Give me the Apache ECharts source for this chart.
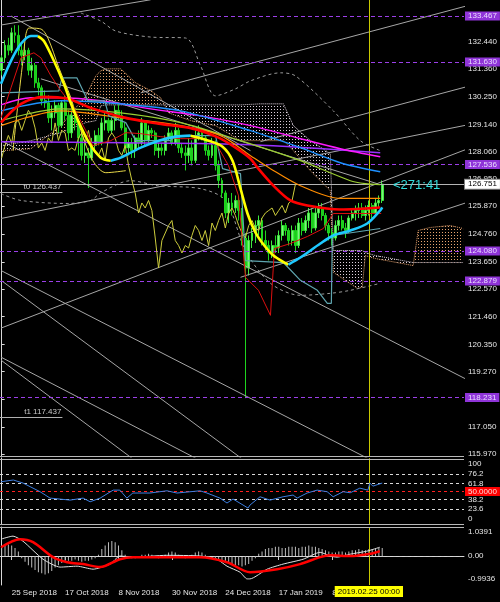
<!DOCTYPE html>
<html>
<head>
<meta charset="utf-8">
<script src="https://cdn.jsdelivr.net/npm/echarts@6/dist/echarts.min.js"></script>
<style>
html,body{margin:0;padding:0;background:#000;}
#c{width:500px;height:602px;}
</style>
</head>
<body>
<div id="c"></div>
<script>
// ---- daily bars (EUR/JPY style), one entry per trading day from 20 Sep 2018 ----
const openP  = [131.3,131.8,132.3,132.1,132.8,132.7,132.1,131.9,132.1,131.3,131.5,130.8,130.6,130.1,130.0,129.4,129.6,129.9,129.1,130.0,
  129.5,128.8,129.5,129.2,128.6,127.9,128.0,127.8,128.3,128.7,128.4,129.2,129.3,128.9,129.3,129.7,129.5,129.0,128.2,128.4,
  128.1,128.6,128.4,129.2,128.5,128.9,128.8,128.1,128.2,128.1,128.6,128.8,128.4,128.9,128.2,128.0,127.9,128.2,127.7,128.6,
  128.8,128.6,128.1,127.9,128.3,127.5,126.9,126.4,125.6,126.0,125.8,126.1,125.7,124.6,123.4,124.5,124.8,125.1,125.3,124.5,
  124.3,124.0,124.3,124.2,124.7,125.1,124.9,124.5,124.9,124.3,125.2,124.9,125.3,125.6,125.0,125.6,125.8,125.5,125.1,124.8,
  124.6,125.1,125.3,125.0,124.9,125.4,125.6,125.7,125.8,125.5,125.7,125.9,125.6,126.0,126.1];
const highP  = [131.9,132.5,132.6,133.0,133.1,133.1,132.4,132.4,132.2,131.8,131.6,131.0,130.7,130.5,130.3,129.9,130.1,130.0,130.1,130.3,
  129.7,129.7,129.6,129.3,128.9,128.5,128.2,128.6,128.9,129.0,129.4,129.6,129.4,129.4,129.9,130.0,129.7,129.2,128.6,128.6,
  128.7,128.9,129.4,129.3,129.1,129.0,128.9,128.4,128.4,128.7,129.0,128.9,129.2,129.0,128.4,128.3,128.6,128.5,128.9,129.1,
  129.0,128.7,128.3,128.6,128.5,127.7,127.0,126.5,126.2,126.4,126.3,126.3,125.8,124.8,124.7,125.0,125.3,125.5,125.4,124.9,
  124.5,124.5,124.7,124.9,125.3,125.2,125.0,125.1,125.1,125.4,125.4,125.5,125.8,125.8,125.8,126.0,126.0,125.6,125.2,125.0,
  125.3,125.5,125.5,125.2,125.5,125.8,125.9,126.0,126.0,125.9,126.1,126.0,126.2,126.3,126.9];
const lowP   = [131.1,131.6,131.9,132.0,132.4,131.9,131.5,131.7,131.1,131.0,130.6,130.3,129.9,129.8,129.2,128.9,129.4,128.8,129.0,129.3,
  128.5,128.6,128.9,127.9,127.7,127.6,126.6,127.7,128.1,128.3,128.3,128.9,128.8,128.8,128.9,129.3,128.9,128.0,127.9,127.8,
  127.8,128.2,128.3,128.3,128.4,128.6,127.9,127.8,127.9,127.9,128.5,128.3,128.3,128.0,127.8,127.3,127.6,127.5,127.6,128.5,
  128.5,127.9,127.7,127.8,127.3,126.6,126.2,125.4,125.2,125.5,125.6,125.3,124.3,118.2,123.1,124.2,124.4,124.7,124.3,124.1,
  123.7,123.8,124.0,124.0,124.5,124.7,124.3,124.3,124.0,124.2,124.7,124.8,125.0,124.8,124.9,125.4,125.3,124.9,124.5,124.3,
  124.5,124.9,124.9,124.6,124.8,125.3,125.3,125.4,125.4,125.3,125.5,125.4,125.5,125.8,126.0];
const closeP = [131.8,132.3,132.1,132.8,132.7,132.1,131.9,132.1,131.3,131.5,130.8,130.6,130.1,130.0,129.4,129.6,129.9,129.1,130.0,129.5,
  128.8,129.5,129.2,128.6,127.9,128.0,127.8,128.3,128.7,128.4,129.2,129.3,128.9,129.3,129.7,129.5,129.0,128.2,128.4,128.1,
  128.6,128.4,129.2,128.5,128.9,128.8,128.1,128.2,128.1,128.6,128.8,128.4,128.9,128.2,128.0,127.9,128.2,127.7,128.6,128.8,
  128.6,128.1,127.9,128.3,127.5,126.9,126.4,125.6,126.0,125.8,126.1,125.7,124.6,123.4,124.5,124.8,125.1,125.3,124.5,124.3,
  124.0,124.3,124.2,124.7,125.1,124.9,124.5,124.9,124.3,125.2,124.9,125.3,125.6,125.0,125.6,125.8,125.5,125.1,124.8,124.6,
  125.1,125.3,125.0,124.9,125.4,125.6,125.7,125.8,125.5,125.7,125.9,125.6,126.0,126.1,126.751];

// ---- time axis: trading days (weekends and 25 Dec / 1 Jan skipped), plus 24 days of forward space ----
const MONTHS = ['Jan','Feb','Mar','Apr','May','Jun','Jul','Aug','Sep','Oct','Nov','Dec'];
const HOLIDAYS = ['2018-12-25','2019-01-01'];
const BAR_SLOTS = 139;
const categories = (function () {
  const out = [];
  const d = new Date(Date.UTC(2018, 8, 20));
  while (out.length < BAR_SLOTS) {
    const iso = d.toISOString().slice(0, 10);
    const wd = d.getUTCDay();
    if (wd !== 0 && wd !== 6 && HOLIDAYS.indexOf(iso) < 0) {
      out.push(d.getUTCDate() + ' ' + MONTHS[d.getUTCMonth()] + ' ' + d.getUTCFullYear());
    }
    d.setUTCDate(d.getUTCDate() + 1);
  }
  return out;
})();
const dateTickIdx = [3, 19, 35, 51, 67, 83, 99];
const markerIdx = 110;           // vertical marker bar
const markerText = '2019.02.25 00:00';

// ---- price scale ----
const priceTicks = [132.44,131.36,130.25,129.14,128.06,126.95,125.87,124.76,123.65,122.57,121.46,120.35,119.27,118.16,117.05,115.97];
const levelPrices = [133.467,131.630,127.536,124.080,122.879,118.231];
const bidPrice = 126.751;

// ---- moving averages and bands: [bar index, price] ----
const maFast = [[-0.2,130.76],[2.79,131.68],[5.78,132.36],[8.77,132.67],[10.86,132.67],[12.65,132.47],[15.64,131.68],[18.63,130.76],
  [21.62,129.68],[25.81,128.49],[29.69,127.81],[32.68,127.69],[35.67,127.81],[41.65,128.21],[47.03,128.49],[52.12,128.65],[56.6,128.69],
  [61.98,128.49],[66.17,128.25],[69.16,127.69],[71.55,126.57],[73.64,125.58],[75.43,124.98],[77.53,124.50],[81.41,123.90],[85.9,123.54],
  [89.49,123.82],[95.47,124.38],[99.36,124.70],[104.44,124.90],[109.52,125.18],[113.41,125.70],[114.01,125.82]];
const maSlowRed = [[-0.2,129.21],[5.78,129.96],[12.65,130.24],[19.83,130.16],[26.7,129.80],[37.17,129.40],[47.03,129.17],[57.2,128.97],
  [64.97,128.61],[70.05,128.21],[74.54,127.77],[76.63,127.41],[81.41,126.69],[86.49,126.10],[91.58,125.90],[101.45,125.74],[113.41,125.82]];
const maMagenta = [[-0.2,129.92],[8.77,130.20],[17.74,130.20],[29.69,130.08],[44.64,129.76],[59.59,129.48],[74.54,129.09],[89.49,128.57],[101.45,128.17],[113.41,127.85]];
const maPurple = [[-0.2,128.45],[37.17,128.41],[74.54,128.33],[113.41,128.01]];
const maBlue = [[-0.2,129.68],[17.74,130.08],[35.67,129.96],[53.61,129.68],[74.54,128.89],[89.49,128.21],[101.45,127.61],[113.41,127.25]];
const maOlive = [[-0.2,129.29],[17.74,129.76],[35.67,129.60],[53.61,129.21],[71.55,128.49],[89.49,127.69],[104.44,126.89],[108.92,126.77],[113.41,126.73]];
const maOrange = [[-0.2,129.09],[17.74,129.68],[35.67,129.40],[53.61,129.09],[65.57,128.69],[74.54,127.89],[80.52,127.37],[89.49,126.69],[101.45,126.18],[113.41,126.18]];
const maThinYellow = [[3.39,128.09],[6.38,131.68],[8.17,132.99],[11.76,132.95],[13.85,132.59],[17.14,131.40],[20.73,130.20],[23.72,128.89],[27.3,127.69],[31.19,127.21],[37.17,127.29]];
const tenkan = [[-0.2,129.40],[2.79,130.60],[5.78,131.80],[9.66,132.00],[11.76,131.80],[14.75,131.08],[17.74,130.48],[21.32,129.88],[25.21,128.89],
  [27.3,128.29],[32.68,128.49],[37.17,128.81],[41.65,128.77],[47.63,128.65],[53.61,128.57],[59.59,128.57],[64.07,128.41],[67.96,127.49],
  [70.95,126.29],[73.04,123.03],[76.93,122.51],[80.52,121.51],[81.71,124.18],[86.49,124.38],[91.58,124.66],[96.37,124.98],[99.36,125.58],[113.7,125.58]];
const kijun = [[-0.2,130.40],[17.14,130.48],[18.04,131.00],[22.52,131.00],[25.81,130.08],[30.89,130.08],[32.09,129.48],[37.17,129.21],[40.16,128.49],
  [50.62,128.49],[52.12,128.69],[64.07,128.69],[66.17,127.37],[71.55,127.17],[73.04,123.70],[84.4,123.62],[89.49,122.91],[94.57,122.51],
  [97.56,121.99],[98.76,121.99],[99.06,124.70],[113.41,124.98]];
const bandUpper = [[23.72,133.59],[29.69,133.27],[34.18,132.87],[44.64,132.63],[55.11,132.59],[59.59,131.48],[64.07,130.28],[70.05,130.56],
  [74.54,130.88],[83.5,131.20],[87.99,131.08],[99.36,129.68],[107.43,128.49],[113.41,128.09]];
const bandLower = [[-0.2,126.37],[5.78,126.10],[19.83,125.98],[26.7,126.10],[29.69,126.41],[38.66,126.89],[46.74,126.69],[59.59,126.57],
  [67.06,126.10],[73.04,124.10],[80.52,122.79],[89.49,122.31],[98.46,122.39],[104.44,122.51],[113.41,122.79]];

// ---- Ichimoku cloud edges (same bar positions for both spans) ----
const cloudX = [-0.2,8.77,17.74,25.21,28.2,29.69,31.19,35.67,40.16,44.64,47.63,50.02,56.6,64.07,71.55,77.53,84.4,87.39,92.48,98.46,99.36,
  106.53,108.02,108.92,111.91,123.27,124.77,128.36,134.34,138.22];
const spanA = [128.09,128.17,129.09,130.28,131.08,131.28,131.36,131.36,130.80,130.49,130.20,129.60,129.29,129.09,128.49,128.49,128.49,
  128.09,127.29,126.49,123.23,122.59,122.63,123.90,123.78,123.50,124.90,125.02,125.10,124.98];
const spanB = [128.29,128.49,128.81,129.21,129.29,129.88,129.92,129.92,129.92,129.92,129.92,129.92,129.92,129.92,129.92,129.96,129.96,
  129.09,128.49,127.97,124.10,124.10,124.10,124.02,123.90,123.62,123.62,123.62,123.62,123.62];

// ---- trend lines drawn on the price chart ----
const trendLines = [
  [[-0.2,133.11],[44.64,134.12]],
  [[41.65,130.40],[140.31,133.91]],
  [[77.53,128.45],[140.31,130.68]],
  [[-0.2,125.38],[140.31,129.14]],
  [[-0.2,121.00],[140.31,128.20]],
  [[71.55,123.03],[140.31,126.06]],
  [[-0.2,128.49],[140.31,118.88]],
  [[-0.2,123.30],[140.31,113.70]],
  [[-0.2,122.91],[140.31,109.03]],
  [[-0.2,119.84],[140.31,110.11]],
  [[-0.2,119.72],[140.31,105.68]],
  [[2.79,133.47],[74.54,128.09]],
  [[11.76,130.96],[112.51,126.77]]
];
const targetLines = [{name:'t0', price:126.437}, {name:'t1', price:117.437}];

// ---- RSI ----
const rsiPts = [[-0.2,64.6],[3.5,67.2],[6.4,62.6],[11.5,49.6],[14.5,40],[20.5,37],[24.4,40],[26.5,34.5],[29.5,40],[33.4,52],[35.4,52],
  [37.5,40],[39.3,47.6],[44.4,47.6],[49.5,51],[52.5,47.6],[59.4,51],[61.5,47.6],[65.4,40],[67.5,32.6],[69.3,38.6],[72.3,29.6],[73.8,25],
  [74.4,29.6],[77.4,42],[80.4,37],[84.3,42],[87.3,44.6],[88.5,40],[91.5,47.6],[94.5,52],[97.5,49.6],[99.3,42],[102.3,49.6],[104.4,48],
  [107.3,55],[109.7,52],[110.3,62.6],[111.2,58],[114,62.6]];
const rsiLevels = [76.2, 61.8, 38.2, 23.6];
const rsiTicks = [100, 76.2, 61.8, 38.2, 23.6, 0];

// ---- MACD ----
const macdHist = [0.45,0.5,0.5,0.45,0.35,0.2,-0.1,-0.25,-0.4,-0.5,-0.6,-0.7,-0.75,-0.8,-0.75,-0.65,-0.5,-0.4,-0.3,-0.25,
  -0.2,-0.2,-0.15,-0.2,-0.25,-0.2,-0.2,-0.15,-0.1,0.05,0.3,0.45,0.6,0.65,0.6,0.45,0.25,0.05,-0.05,-0.1,
  -0.1,-0.05,0.05,0.05,0.1,0.05,-0.05,-0.1,-0.05,0.05,0.15,0.2,0.15,0.05,-0.05,-0.1,-0.05,0.05,0.15,0.2,
  0.15,0.05,-0.05,-0.1,-0.15,-0.2,-0.25,-0.3,-0.35,-0.35,-0.4,-0.4,-0.45,-0.4,-0.35,-0.2,-0.1,0.1,0.2,0.3,
  0.35,0.35,0.4,0.4,0.35,0.35,0.4,0.4,0.4,0.35,0.4,0.4,0.45,0.4,0.4,0.35,0.3,0.25,0.2,0.15,
  0.15,0.2,0.2,0.15,0.2,0.25,0.25,0.3,0.25,0.25,0.3,0.3,0.3,0.35,0.35];
const macdMain = [[-0.2,0.73],[3.4,0.86],[6.4,0.64],[12.4,-0.14],[17.5,-0.48],[22.6,-0.44],[27.4,-0.57],[32.5,-0.35],[35.4,0],[39.3,-0.05],
  [49.5,0.03],[59.4,0],[64.5,-0.14],[67.5,-0.44],[71.4,-0.7],[73.5,-0.99],[74.4,-0.99],[79.5,-0.57],[84.3,-0.35],[90.3,-0.14],[95.4,0.16],
  [98.4,0],[100.5,-0.05],[104.4,0.08],[109.4,0.21],[113.3,0.38]];
const macdSignal = [[-0.2,0.38],[5.5,0.73],[9.4,0.6],[15.4,-0.05],[19.6,-0.27],[24.4,-0.35],[29.5,-0.48],[35.4,-0.14],[39.3,-0.05],
  [59.4,-0.05],[67.5,-0.27],[74.4,-0.7],[82.5,-0.57],[89.4,-0.35],[95.4,-0.05],[98.4,0.03],[104.4,0],[111.2,0.12],[113.3,0.21]];
const macdTicks = [1.0391, 0, -0.9936];

// ---------------------------------------------------------------------------
const FONT = 'Liberation Sans';
const AXIS_TXT = '#e6e6e6';
const YELLOW_MARK = '#c8c800';

function dotPattern(color) {
  const c = document.createElement('canvas');
  c.width = 3; c.height = 3;
  const g = c.getContext('2d');
  g.fillStyle = color;
  g.fillRect(1, 1, 1, 1);
  return {image: c, repeat: 'repeat'};
}
const tanDots = dotPattern('#e8a46e');
const thistleDots = dotPattern('#ddd0dd');

// split a polyline into rising / falling runs (rising drawn cyan, falling yellow)
function splitByDirection(pts) {
  const runs = [];
  let cur = [pts[0]], dir = null;
  for (let k = 1; k < pts.length; k++) {
    const d = pts[k][1] >= pts[k - 1][1] ? 'up' : 'down';
    if (dir === null || d === dir) { cur.push(pts[k]); dir = d; }
    else { runs.push({dir: dir, pts: cur}); cur = [pts[k - 1], pts[k]]; dir = d; }
  }
  runs.push({dir: dir, pts: cur});
  return runs;
}

function line(data, color, width, extra) {
  return Object.assign({
    type: 'line', xAxisIndex: 1, yAxisIndex: 0, data: data, showSymbol: false, symbol: 'none',
    lineStyle: {color: color, width: width}, silent: true, z: 5
  }, extra || {});
}

const candleData = openP.map((o, i) => [o, closeP[i], lowP[i], highP[i]]);
const chikou = closeP.map((c, k) => [k - 26, c]).filter(p => p[0] >= -0.5);

const series = [];

// cloud hatch
series.push({
  type: 'custom', xAxisIndex: 1, yAxisIndex: 0, silent: true, z: 1,
  data: cloudX.slice(0, -1).map((x, k) => [x, spanA[k]]),
  renderItem: function (params, api) {
    const k = params.dataIndex;
    const pts = [
      api.coord([cloudX[k], spanA[k]]), api.coord([cloudX[k + 1], spanA[k + 1]]),
      api.coord([cloudX[k + 1], spanB[k + 1]]), api.coord([cloudX[k], spanB[k]])
    ];
    const bull = spanA[k] + spanA[k + 1] >= spanB[k] + spanB[k + 1];
    return {type: 'polygon', shape: {points: pts}, style: {fill: bull ? tanDots : thistleDots}};
  }
});
series.push(line(cloudX.map((x, k) => [x, spanA[k]]), '#e8a46e', 1, {lineStyle: {color: '#e8a46e', width: 1, type: 'dotted'}, z: 2}));
series.push(line(cloudX.map((x, k) => [x, spanB[k]]), '#ddd0dd', 1, {lineStyle: {color: '#ddd0dd', width: 1, type: 'dotted'}, z: 2}));

// bands
series.push(line(bandUpper, '#9a9a9a', 1, {lineStyle: {color: '#9a9a9a', width: 1, type: [3, 3]}, z: 2, smooth: 0.3}));
series.push(line(bandLower, '#9a9a9a', 1, {lineStyle: {color: '#9a9a9a', width: 1, type: [3, 3]}, z: 2, smooth: 0.3}));

// candles with horizontal levels, bid line and date marker
series.push({
  type: 'candlestick', xAxisIndex: 0, yAxisIndex: 0, data: candleData, barWidth: 2.4, silent: true, z: 3,
  itemStyle: {color: '#7df27d', color0: '#1ccc1c', borderColor: '#3ee83e', borderColor0: '#1ed41e', borderWidth: 1},
  markLine: {
    silent: true, symbol: ['none', 'none'], animation: false,
    data: levelPrices.map(p => ({
      yAxis: p,
      lineStyle: {color: '#9b3fe8', width: 1, type: [4, 3]},
      label: {show: true, position: 'end', distance: 1, formatter: p.toFixed(3), color: '#eadcff',
        backgroundColor: '#8f34d8', padding: [1, 3, 0, 3], fontFamily: FONT, fontSize: 8}
    })).concat([
      {yAxis: bidPrice, lineStyle: {color: '#b4b4b4', width: 1, type: 'solid'},
        label: {show: true, position: 'end', distance: 1, formatter: bidPrice.toFixed(3), color: '#000',
          backgroundColor: '#ffffff', borderColor: '#808080', borderWidth: 1, padding: [1, 3, 0, 3], fontFamily: FONT, fontSize: 8}},
      {xAxis: markerIdx, lineStyle: {color: YELLOW_MARK, width: 1, type: 'solid'}, label: {show: false}}
    ])
  }
});

// trend lines
trendLines.forEach(tl => series.push(line(tl, '#a6a6a6', 1, {z: 4})));
targetLines.forEach(t => series.push({
  type: 'line', xAxisIndex: 1, yAxisIndex: 0, data: [], silent: true, z: 4,
  markLine: {
    silent: true, symbol: ['none', 'none'], animation: false,
    data: [[{coord: [-0.5, t.price]}, {coord: [18.2, t.price]}]],
    lineStyle: {color: '#b0b0b0', width: 1, type: 'solid'},
    label: {show: true, position: 'insideEndTop', distance: 1, formatter: t.name + ' ' + t.price.toFixed(3),
      color: '#c8c8c8', fontFamily: FONT, fontSize: 8}
  }
}));

// chikou span and indicator lines
series.push(line(chikou, '#cccc3c', 1, {z: 5}));
series.push(line(maThinYellow, '#e8d848', 1, {z: 5, smooth: 0.3}));
series.push(line(maPurple, '#9b30ff', 1.5, {smooth: 0.3}));
series.push(line(maMagenta, '#ff19ff', 1.5, {smooth: 0.3}));
series.push(line(maBlue, '#1e90ff', 1.5, {smooth: 0.3}));
series.push(line(maOlive, '#9acd32', 1.2, {smooth: 0.3}));
series.push(line(maOrange, '#ff8c00', 1.2, {smooth: 0.3}));
series.push(line(kijun, '#5fa6b0', 1.2, {z: 6}));
series.push(line(tenkan, '#dd1010', 1, {z: 6}));
series.push(line(maSlowRed, '#ff0000', 2.6, {z: 7, smooth: 0.3}));
splitByDirection(maFast).forEach(run => series.push(
  line(run.pts, run.dir === 'up' ? '#1ec8ff' : '#ffff00', 2.6, {z: 8, smooth: 0.3})));

// RSI panel
series.push({
  type: 'line', xAxisIndex: 2, yAxisIndex: 1, data: rsiPts, showSymbol: false, symbol: 'none', silent: true, z: 5,
  lineStyle: {color: '#3d7fe0', width: 1},
  markLine: {
    silent: true, symbol: ['none', 'none'], animation: false,
    data: rsiLevels.map(v => ({yAxis: v, lineStyle: {color: '#d8d8d8', width: 1, type: [3, 3]}, label: {show: false}})).concat([
      {yAxis: 50, lineStyle: {color: '#ff2020', width: 1, type: [3, 3]},
        label: {show: true, position: 'end', distance: 1, formatter: '50.0000', color: '#ffd8d8', backgroundColor: '#ff0000',
          padding: [1, 3, 0, 3], fontFamily: FONT, fontSize: 8}},
      {xAxis: markerIdx, lineStyle: {color: YELLOW_MARK, width: 1, type: 'solid'}, label: {show: false}}
    ])
  }
});

// MACD panel
series.push({
  type: 'bar', xAxisIndex: 3, yAxisIndex: 2, data: macdHist, barWidth: 1, silent: true, z: 3,
  itemStyle: {color: '#bdbdbd'},
  markLine: {
    silent: true, symbol: ['none', 'none'], animation: false,
    data: [
      {yAxis: 0, lineStyle: {color: '#d8d8d8', width: 1, type: [3, 3]}, label: {show: false}},
      {xAxis: markerIdx, lineStyle: {color: YELLOW_MARK, width: 1, type: 'solid'},
        label: {show: true, position: 'start', distance: 1, formatter: markerText, color: '#000',
          backgroundColor: '#ffff00', padding: [2, 3, 1, 3], fontFamily: FONT, fontSize: 8}}
    ]
  }
});
series.push({type: 'line', xAxisIndex: 4, yAxisIndex: 2, data: macdMain, showSymbol: false, symbol: 'none', silent: true, z: 5,
  lineStyle: {color: '#e0e0e0', width: 1}, smooth: 0.2});
series.push({type: 'line', xAxisIndex: 4, yAxisIndex: 2, data: macdSignal, showSymbol: false, symbol: 'none', silent: true, z: 6,
  lineStyle: {color: '#ff0000', width: 2.5}, smooth: 0.3});

const tickFilter = (idx) => dateTickIdx.indexOf(idx) >= 0;
const hiddenAxis = {show: false};

const option = {
  backgroundColor: '#000000',
  animation: false,
  textStyle: {fontFamily: FONT},
  grid: [
    {left: -1, top: -1, width: 465, height: 458},
    {left: -1, top: 458.2, width: 465, height: 66.5},
    {left: -1, top: 527, width: 465, height: 58}
  ],
  xAxis: [
    Object.assign({type: 'category', gridIndex: 0, data: categories, boundaryGap: true}, hiddenAxis),
    Object.assign({type: 'value', gridIndex: 0, min: -0.5, max: 138.5}, hiddenAxis),
    Object.assign({type: 'value', gridIndex: 1, min: -0.5, max: 138.5}, hiddenAxis),
    {type: 'category', gridIndex: 2, data: categories, boundaryGap: true,
      axisLine: {show: true, lineStyle: {color: '#d0d0d0', width: 1}},
      axisTick: {show: true, interval: tickFilter, alignWithLabel: true, length: 4, lineStyle: {color: '#d0d0d0'}},
      axisLabel: {show: true, interval: tickFilter, align: 'left', margin: 4, color: AXIS_TXT, fontSize: 8, fontFamily: FONT},
      splitLine: {show: false}},
    Object.assign({type: 'value', gridIndex: 2, min: -0.5, max: 138.5}, hiddenAxis)
  ],
  yAxis: [
    {type: 'value', gridIndex: 0, position: 'right', min: 115.85, max: 134.11, scale: true,
      axisLine: {show: true, lineStyle: {color: '#d8d8d8', width: 1}},
      axisTick: {show: true, length: 3, customValues: priceTicks, lineStyle: {color: '#d8d8d8'}},
      axisLabel: {show: true, customValues: priceTicks, margin: 4, color: AXIS_TXT, fontSize: 8, fontFamily: FONT,
        formatter: v => v.toFixed(3)},
      splitLine: {show: false}},
    {type: 'value', gridIndex: 1, position: 'right', min: 0, max: 100,
      axisLine: {show: true, lineStyle: {color: '#d8d8d8', width: 1}},
      axisTick: {show: false},
      axisLabel: {show: true, customValues: rsiTicks, margin: 4, color: AXIS_TXT, fontSize: 8, fontFamily: FONT,
        formatter: v => v === 100 ? '{t|100}' : v === 0 ? '{b|0}' : String(v),
        rich: {t: {padding: [12, 0, 0, 0], color: AXIS_TXT, fontSize: 8, fontFamily: FONT},
               b: {padding: [0, 0, 12, 0], color: AXIS_TXT, fontSize: 8, fontFamily: FONT}}},
      splitLine: {show: false}},
    {type: 'value', gridIndex: 2, position: 'right', min: -1.254, max: 1.255,
      axisLine: {show: true, lineStyle: {color: '#d8d8d8', width: 1}},
      axisTick: {show: false},
      axisLabel: {show: true, customValues: macdTicks, margin: 4, color: AXIS_TXT, fontSize: 8, fontFamily: FONT,
        formatter: v => v === 0 ? '0.00' : v.toFixed(4)},
      splitLine: {show: false}}
  ],
  graphic: [
    {type: 'line', silent: true, shape: {x1: 0, y1: 456.5, x2: 464, y2: 456.5}, style: {stroke: '#b8b8b8', lineWidth: 1}, z: 10},
    {type: 'line', silent: true, shape: {x1: 0, y1: 459.5, x2: 464, y2: 459.5}, style: {stroke: '#b8b8b8', lineWidth: 1}, z: 10},
    {type: 'line', silent: true, shape: {x1: 0, y1: 524.5, x2: 464, y2: 524.5}, style: {stroke: '#b8b8b8', lineWidth: 1}, z: 10},
    {type: 'line', silent: true, shape: {x1: 0, y1: 527.5, x2: 464, y2: 527.5}, style: {stroke: '#b8b8b8', lineWidth: 1}, z: 10},
    {type: 'text', silent: true, left: 393, top: 179, z: 10,
      style: {text: '<271:41', fill: '#33dddd', font: '13px "Liberation Sans"'}}
  ],
  series: series
};

const chart = echarts.init(document.getElementById('c'), null, {renderer: 'canvas', width: 500, height: 602});
chart.setOption(option);
</script>
</body>
</html>
